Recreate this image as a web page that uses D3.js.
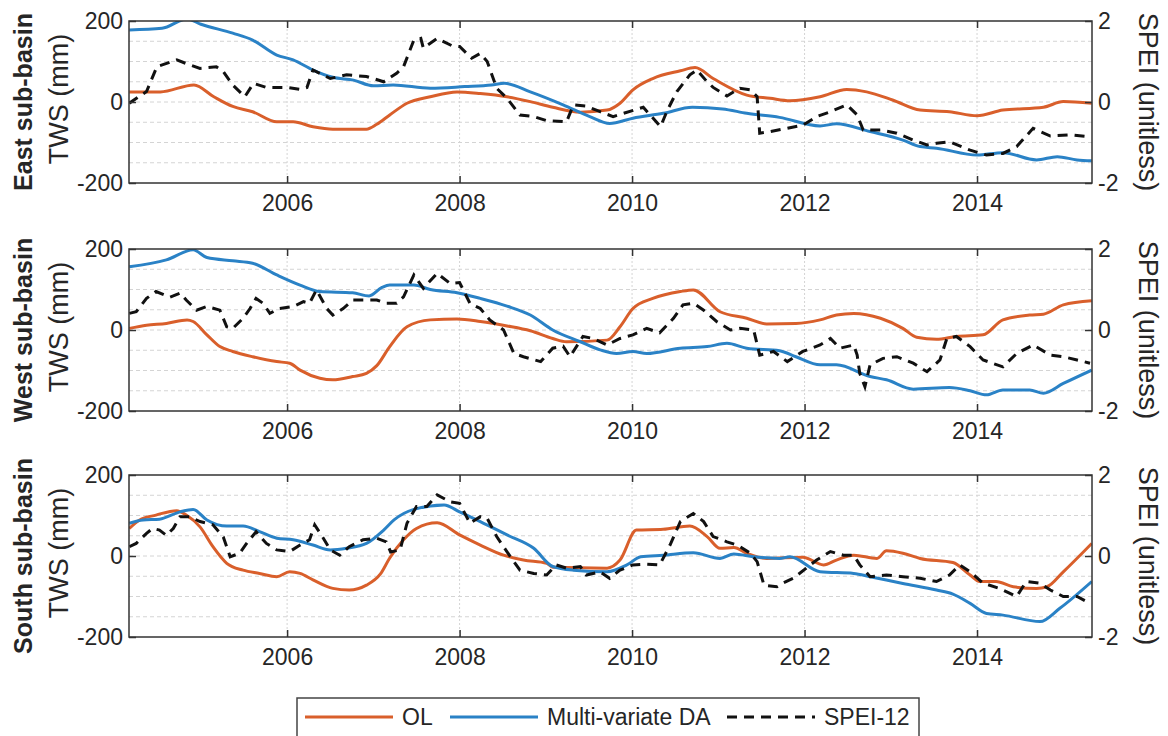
<!DOCTYPE html>
<html>
<head>
<meta charset="utf-8">
<script src="https://cdn.jsdelivr.net/npm/d3@7"></script>
<style>
  html, body { margin: 0; padding: 0; background: #fff; }
  text { font-family: Arial, "Liberation Sans", sans-serif; fill: #262626; }
</style>
</head>
<body>
<svg id="chart"></svg>
<script>
// ---- data: [decimal year, value] ----
const panelNames = ["East sub-basin", "West sub-basin", "South sub-basin"];
const seriesNames = ["OL", "Multi-variate DA", "SPEI-12"];
const xTicks = [2006, 2008, 2010, 2012, 2014];
const twsTicks = [-200, 0, 200];
const speiTicks = [-2, 0, 2];

const eastOL = [[2004.17,25],[2004.53,25],[2004.92,42],[2005.15,13],[2005.37,-11],[2005.6,-24],[2005.88,-49],[2006.07,-49],[2006.3,-61],[2006.53,-67],[2006.92,-67],[2007.04,-55],[2007.19,-32],[2007.39,-3],[2007.66,13],[2007.97,25],[2008.24,21],[2008.55,13],[2008.82,1],[2009.08,-13],[2009.4,-25],[2009.71,-20],[2009.86,-3],[2010.01,30],[2010.24,58],[2010.56,77],[2010.73,85],[2010.94,58],[2011.33,17],[2011.6,9],[2011.83,3],[2012.18,13],[2012.49,31],[2012.72,25],[2013.02,5],[2013.34,-20],[2013.68,-24],[2014.0,-34],[2014.3,-20],[2014.77,-13],[2015.0,1],[2015.33,-3]];
const eastDA = [[2004.17,178],[2004.55,182],[2004.84,205],[2005.0,192],[2005.37,170],[2005.6,153],[2005.88,116],[2006.07,104],[2006.3,79],[2006.53,61],[2006.77,54],[2007.0,40],[2007.23,42],[2007.66,34],[2008.06,38],[2008.37,42],[2008.52,46],[2008.82,25],[2009.2,-7],[2009.51,-36],[2009.74,-53],[2010.01,-40],[2010.36,-28],[2010.7,-13],[2011.05,-17],[2011.33,-28],[2011.71,-38],[2012.18,-59],[2012.37,-54],[2012.76,-73],[2013.14,-94],[2013.34,-110],[2013.53,-114],[2014.0,-131],[2014.3,-125],[2014.69,-143],[2014.93,-135],[2015.16,-143],[2015.33,-145]];
const eastSPEI = [[2004.17,-0.03],[2004.37,0.26],[2004.49,0.87],[2004.72,1.04],[2004.83,0.95],[2004.99,0.83],[2005.18,0.87],[2005.26,0.75],[2005.37,0.42],[2005.51,0.13],[2005.61,0.46],[2005.76,0.36],[2006.0,0.36],[2006.15,0.31],[2006.23,0.36],[2006.3,0.79],[2006.5,0.58],[2006.69,0.67],[2006.92,0.63],[2007.12,0.5],[2007.27,0.71],[2007.35,0.87],[2007.47,1.53],[2007.55,1.57],[2007.58,1.33],[2007.74,1.57],[2007.91,1.39],[2008.0,1.37],[2008.14,1.08],[2008.24,1.2],[2008.32,1.0],[2008.43,0.34],[2008.55,0.09],[2008.7,-0.32],[2008.86,-0.36],[2009.01,-0.46],[2009.24,-0.49],[2009.32,-0.07],[2009.47,-0.1],[2009.63,-0.24],[2009.78,-0.36],[2009.9,-0.28],[2010.13,-0.13],[2010.33,-0.61],[2010.41,-0.2],[2010.52,0.26],[2010.67,0.67],[2010.75,0.79],[2010.87,0.5],[2010.94,0.36],[2011.1,0.15],[2011.25,0.34],[2011.37,0.3],[2011.45,0.13],[2011.48,-0.77],[2011.6,-0.73],[2011.8,-0.65],[2011.98,-0.57],[2012.14,-0.36],[2012.3,-0.24],[2012.49,-0.07],[2012.61,-0.32],[2012.68,-0.69],[2012.88,-0.69],[2013.07,-0.77],[2013.26,-0.94],[2013.42,-1.06],[2013.53,-1.02],[2013.68,-0.98],[2013.92,-1.19],[2014.11,-1.31],[2014.3,-1.27],[2014.46,-1.1],[2014.65,-0.65],[2014.85,-0.84],[2015.08,-0.81],[2015.31,-0.86]];

const westOL = [[2004.17,4],[2004.37,12],[2004.6,16],[2004.84,25],[2004.91,21],[2005.07,-12],[2005.22,-41],[2005.37,-53],[2005.6,-66],[2005.88,-78],[2006.03,-82],[2006.15,-99],[2006.38,-119],[2006.53,-123],[2006.76,-115],[2006.92,-107],[2007.04,-88],[2007.19,-41],[2007.39,8],[2007.66,25],[2007.97,27],[2008.24,21],[2008.55,10],[2008.82,-2],[2009.08,-21],[2009.24,-29],[2009.71,-25],[2009.86,8],[2010.01,53],[2010.24,78],[2010.56,95],[2010.71,99],[2011.02,45],[2011.33,29],[2011.56,15],[2011.9,16],[2012.18,25],[2012.37,37],[2012.57,41],[2012.88,29],[2013.14,4],[2013.3,-18],[2013.53,-23],[2013.76,-16],[2014.07,-12],[2014.3,25],[2014.61,37],[2014.77,39],[2015.0,62],[2015.33,72]];
const westDA = [[2004.17,156],[2004.6,173],[2004.91,198],[2005.07,179],[2005.37,171],[2005.6,165],[2005.88,136],[2006.15,111],[2006.38,95],[2006.76,92],[2006.95,84],[2007.1,105],[2007.19,111],[2007.47,111],[2007.66,100],[2007.97,92],[2008.24,78],[2008.55,59],[2008.82,37],[2009.08,0],[2009.4,-29],[2009.63,-49],[2009.82,-58],[2010.01,-53],[2010.17,-58],[2010.56,-45],[2010.87,-41],[2011.1,-33],[2011.33,-45],[2011.71,-51],[2011.9,-66],[2012.18,-86],[2012.37,-86],[2012.76,-115],[2012.95,-123],[2013.26,-146],[2013.68,-142],[2013.92,-150],[2014.11,-160],[2014.3,-148],[2014.61,-148],[2014.77,-156],[2015.0,-132],[2015.33,-99]];
const westSPEI = [[2004.17,0.41],[2004.25,0.45],[2004.37,0.78],[2004.48,0.95],[2004.64,0.81],[2004.76,0.91],[2004.83,0.74],[2004.95,0.49],[2005.07,0.58],[2005.22,0.49],[2005.3,0.08],[2005.37,0.04],[2005.49,0.29],[2005.57,0.53],[2005.64,0.78],[2005.72,0.66],[2005.8,0.41],[2005.91,0.53],[2006.07,0.58],[2006.19,0.7],[2006.26,0.66],[2006.34,0.99],[2006.46,0.53],[2006.53,0.37],[2006.65,0.53],[2006.76,0.74],[2006.92,0.74],[2007.04,0.74],[2007.15,0.66],[2007.27,0.66],[2007.35,0.82],[2007.47,1.36],[2007.58,1.03],[2007.74,1.4],[2007.89,1.15],[2008.0,1.17],[2008.12,0.66],[2008.24,0.53],[2008.35,0.25],[2008.51,0],[2008.63,-0.58],[2008.74,-0.66],[2008.94,-0.78],[2009.08,-0.45],[2009.2,-0.4],[2009.28,-0.66],[2009.43,-0.16],[2009.55,-0.21],[2009.71,-0.37],[2009.86,-0.21],[2010.01,-0.12],[2010.17,0.04],[2010.32,-0.07],[2010.48,0.29],[2010.59,0.62],[2010.71,0.66],[2010.83,0.49],[2010.98,0.21],[2011.14,0],[2011.25,0.04],[2011.41,0],[2011.48,-0.62],[2011.64,-0.53],[2011.8,-0.78],[2011.98,-0.53],[2012.18,-0.37],[2012.3,-0.21],[2012.41,-0.45],[2012.57,-0.37],[2012.61,-0.62],[2012.64,-1.07],[2012.7,-1.4],[2012.76,-0.86],[2012.91,-0.7],[2013.07,-0.66],[2013.26,-0.82],[2013.42,-1.03],[2013.57,-0.74],[2013.65,-0.21],[2013.76,-0.16],[2013.92,-0.41],[2014.07,-0.74],[2014.3,-0.91],[2014.46,-0.58],[2014.65,-0.37],[2014.85,-0.62],[2015.0,-0.66],[2015.16,-0.74],[2015.31,-0.82]];

const southOL = [[2004.17,68],[2004.29,89],[2004.48,101],[2004.72,112],[2004.83,101],[2004.99,72],[2005.14,23],[2005.3,-18],[2005.49,-35],[2005.68,-43],[2005.88,-51],[2006.03,-39],[2006.15,-43],[2006.3,-59],[2006.53,-80],[2006.72,-84],[2006.92,-72],[2007.08,-45],[2007.19,-5],[2007.35,40],[2007.5,68],[2007.74,82],[2008.0,52],[2008.24,27],[2008.51,2],[2008.74,-10],[2009.01,-18],[2009.08,-28],[2009.71,-30],[2009.86,-10],[2010.05,64],[2010.36,66],[2010.67,74],[2010.87,48],[2011.02,19],[2011.18,21],[2011.33,7],[2011.56,-6],[2011.98,-3],[2012.22,-22],[2012.37,-10],[2012.57,2],[2012.84,-6],[2012.95,13],[2013.14,7],[2013.34,-6],[2013.72,-16],[2013.92,-47],[2014.03,-63],[2014.22,-63],[2014.42,-76],[2014.69,-80],[2014.81,-76],[2015.0,-39],[2015.33,31]];
const southDA = [[2004.17,81],[2004.33,89],[2004.52,91],[2004.76,109],[2004.91,115],[2005.07,89],[2005.3,74],[2005.49,74],[2005.68,60],[2005.88,44],[2006.07,40],[2006.3,27],[2006.5,15],[2006.69,19],[2006.92,31],[2007.12,64],[2007.24,89],[2007.47,115],[2007.82,126],[2008.0,109],[2008.24,85],[2008.55,52],[2008.86,19],[2009.08,-26],[2009.32,-35],[2009.71,-39],[2009.94,-22],[2010.1,-2],[2010.36,2],[2010.71,8],[2011.02,-6],[2011.18,5],[2011.41,-2],[2011.71,-6],[2011.83,-2],[2012.18,-39],[2012.57,-43],[2012.76,-51],[2013.14,-68],[2013.53,-84],[2013.72,-94],[2013.92,-117],[2014.11,-142],[2014.3,-146],[2014.73,-162],[2014.96,-129],[2015.33,-63]];
const southSPEI = [[2004.17,0.23],[2004.25,0.31],[2004.37,0.56],[2004.44,0.68],[2004.52,0.64],[2004.6,0.51],[2004.68,0.68],[2004.76,0.97],[2004.87,0.97],[2004.99,0.85],[2005.14,0.77],[2005.26,0.47],[2005.34,-0.02],[2005.45,0.07],[2005.53,0.31],[2005.64,0.6],[2005.76,0.31],[2005.88,0.15],[2006.03,0.11],[2006.15,0.27],[2006.26,0.4],[2006.32,0.77],[2006.42,0.44],[2006.5,0.15],[2006.61,0.02],[2006.72,0.23],[2006.88,0.4],[2007.04,0.44],[2007.15,0.35],[2007.2,0.1],[2007.31,0.15],[2007.39,0.81],[2007.5,1.22],[2007.62,1.22],[2007.74,1.51],[2007.89,1.34],[2008.0,1.3],[2008.12,0.81],[2008.24,0.97],[2008.32,0.93],[2008.43,0.48],[2008.59,-0.02],[2008.7,-0.35],[2008.86,-0.43],[2009.01,-0.47],[2009.12,-0.22],[2009.24,-0.3],[2009.4,-0.26],[2009.47,-0.47],[2009.63,-0.39],[2009.74,-0.55],[2009.86,-0.35],[2010.01,-0.22],[2010.17,-0.2],[2010.32,-0.22],[2010.44,0.27],[2010.56,0.85],[2010.71,1.05],[2010.83,0.85],[2010.94,0.48],[2011.1,0.35],[2011.22,0.27],[2011.37,0.07],[2011.45,-0.14],[2011.53,-0.72],[2011.68,-0.76],[2011.75,-0.67],[2011.87,-0.55],[2012.02,-0.3],[2012.14,-0.1],[2012.3,0.11],[2012.45,0.02],[2012.57,0.02],[2012.64,-0.22],[2012.76,-0.51],[2012.95,-0.47],[2013.14,-0.51],[2013.34,-0.55],[2013.53,-0.63],[2013.68,-0.47],[2013.8,-0.22],[2013.92,-0.39],[2014.07,-0.67],[2014.26,-0.8],[2014.46,-1.0],[2014.57,-0.63],[2014.73,-0.67],[2014.85,-0.84],[2015.0,-1.0],[2015.16,-1.0],[2015.31,-1.17]];

(() => {
const width = 1168;
const height = 736;
const colors = ["#d95f2b", "#2a82c6", "#111"];

const svg = d3.select("#chart")
    .attr("width", width)
    .attr("height", height);

// shared x scale, each panel has its own two y scales
const x = d3.scaleLinear().domain([2004.1667, 2015.333]).range([129, 1092]);
const panelTops = [21, 249, 475];
const panelH = 162;

const panels = [
    { ol: eastOL, da: eastDA, spei: eastSPEI },
    { ol: westOL, da: westDA, spei: westSPEI },
    { ol: southOL, da: southDA, spei: southSPEI }
];

panels.forEach((p, i) => {
    const top = panelTops[i];
    const bottom = top + panelH;
    const yL = d3.scaleLinear().domain([-200, 200]).range([bottom, top]);
    const yR = d3.scaleLinear().domain([-2, 2]).range([bottom, top]);
    const g = svg.append("g");

    // grid: horizontal every 50 mm, vertical on year ticks
    g.append("g").selectAll("line")
        .data(d3.range(-150, 151, 50))
        .join("line")
        .attr("x1", x.range()[0]).attr("x2", x.range()[1])
        .attr("y1", d => yL(d)).attr("y2", d => yL(d))
        .attr("stroke", "#d4d4d4").attr("stroke-width", 1)
        .attr("stroke-dasharray", "4,3");
    g.append("g").selectAll("line")
        .data(xTicks)
        .join("line")
        .attr("x1", d => x(d)).attr("x2", d => x(d))
        .attr("y1", top).attr("y2", bottom)
        .attr("stroke", "#d4d4d4").attr("stroke-width", 1)
        .attr("stroke-dasharray", "2,2");

    // clip lines to the axes box
    g.append("clipPath").attr("id", "clip" + i)
        .append("rect")
        .attr("x", x.range()[0]).attr("y", top)
        .attr("width", x.range()[1] - x.range()[0]).attr("height", panelH);

    const lineL = d3.line().x(d => x(d[0])).y(d => yL(d[1])).curve(d3.curveMonotoneX);
    const lineR = d3.line().x(d => x(d[0])).y(d => yR(d[1]));
    const lines = g.append("g").attr("clip-path", `url(#clip${i})`);

    lines.append("path").datum(p.ol)
        .attr("d", lineL).attr("fill", "none")
        .attr("stroke", colors[0]).attr("stroke-width", 3);
    lines.append("path").datum(p.da)
        .attr("d", lineL).attr("fill", "none")
        .attr("stroke", colors[1]).attr("stroke-width", 3);
    lines.append("path").datum(p.spei)
        .attr("d", lineR).attr("fill", "none")
        .attr("stroke", colors[2]).attr("stroke-width", 3)
        .attr("stroke-dasharray", "10,7");

    // box
    g.append("rect")
        .attr("x", x.range()[0]).attr("y", top)
        .attr("width", x.range()[1] - x.range()[0]).attr("height", panelH)
        .attr("fill", "none").attr("stroke", "#333").attr("stroke-width", 1.5);

    // axes with inward ticks
    const fs = "23px";
    const axB = g.append("g").attr("transform", `translate(0,${bottom})`)
        .call(d3.axisBottom(x).tickValues(xTicks).tickFormat(d3.format("d"))
            .tickSizeInner(-7).tickSizeOuter(0).tickPadding(12));
    const axT = g.append("g").attr("transform", `translate(0,${top})`)
        .call(d3.axisTop(x).tickValues(xTicks).tickFormat("")
            .tickSizeInner(-7).tickSizeOuter(0));
    const axL = g.append("g").attr("transform", `translate(${x.range()[0]},0)`)
        .call(d3.axisLeft(yL).tickValues(twsTicks).tickSizeInner(-7).tickSizeOuter(0).tickPadding(6));
    const axR = g.append("g").attr("transform", `translate(${x.range()[1]},0)`)
        .call(d3.axisRight(yR).tickValues(speiTicks).tickSizeInner(-7).tickSizeOuter(0).tickPadding(6));

    [axB, axT, axL, axR].forEach(a => {
        a.select(".domain").remove();
        a.selectAll(".tick line").attr("stroke", "#333").attr("stroke-width", 1.5);
        a.selectAll(".tick text").style("font-size", fs).attr("fill", "#262626")
            .style("font-family", "Arial, 'Liberation Sans', sans-serif");
    });
    axL.selectAll(".tick text").text(d => d < 0 ? "-" + Math.abs(d) : d);
    axR.selectAll(".tick text").text(d => d < 0 ? "-" + Math.abs(d) : d);

    // axis titles
    const cy = (top + bottom) / 2;
    svg.append("text")
        .attr("transform", `translate(32,${cy}) rotate(-90)`)
        .attr("text-anchor", "middle")
        .style("font-size", "25px").style("font-weight", "bold")
        .text(panelNames[i]);
    svg.append("text")
        .attr("transform", `translate(68,${cy - 3}) rotate(-90)`)
        .attr("text-anchor", "middle")
        .style("font-size", "27px")
        .text("TWS (mm)");
    svg.append("text")
        .attr("transform", `translate(1139,${cy}) rotate(90)`)
        .attr("text-anchor", "middle")
        .style("font-size", "27px")
        .text("SPEI (unitless)");
});

// legend at the bottom
const legend = svg.append("g").attr("transform", "translate(297,698)");
legend.append("rect")
    .attr("width", 622).attr("height", 48)
    .attr("fill", "#fff").attr("stroke", "#444").attr("stroke-width", 1.5);

const legendItems = [
    { name: seriesNames[0], x0: 8, dash: null },
    { name: seriesNames[1], x0: 153, dash: null },
    { name: seriesNames[2], x0: 430, dash: "10,7" }
];
legendItems.forEach((d, i) => {
    legend.append("line")
        .attr("x1", d.x0).attr("x2", d.x0 + 88)
        .attr("y1", 19).attr("y2", 19)
        .attr("stroke", colors[i]).attr("stroke-width", 3)
        .attr("stroke-dasharray", d.dash);
    legend.append("text")
        .attr("x", d.x0 + 97).attr("y", 27)
        .style("font-size", "23px")
        .text(d.name);
});
})();
</script>
</body>
</html>
